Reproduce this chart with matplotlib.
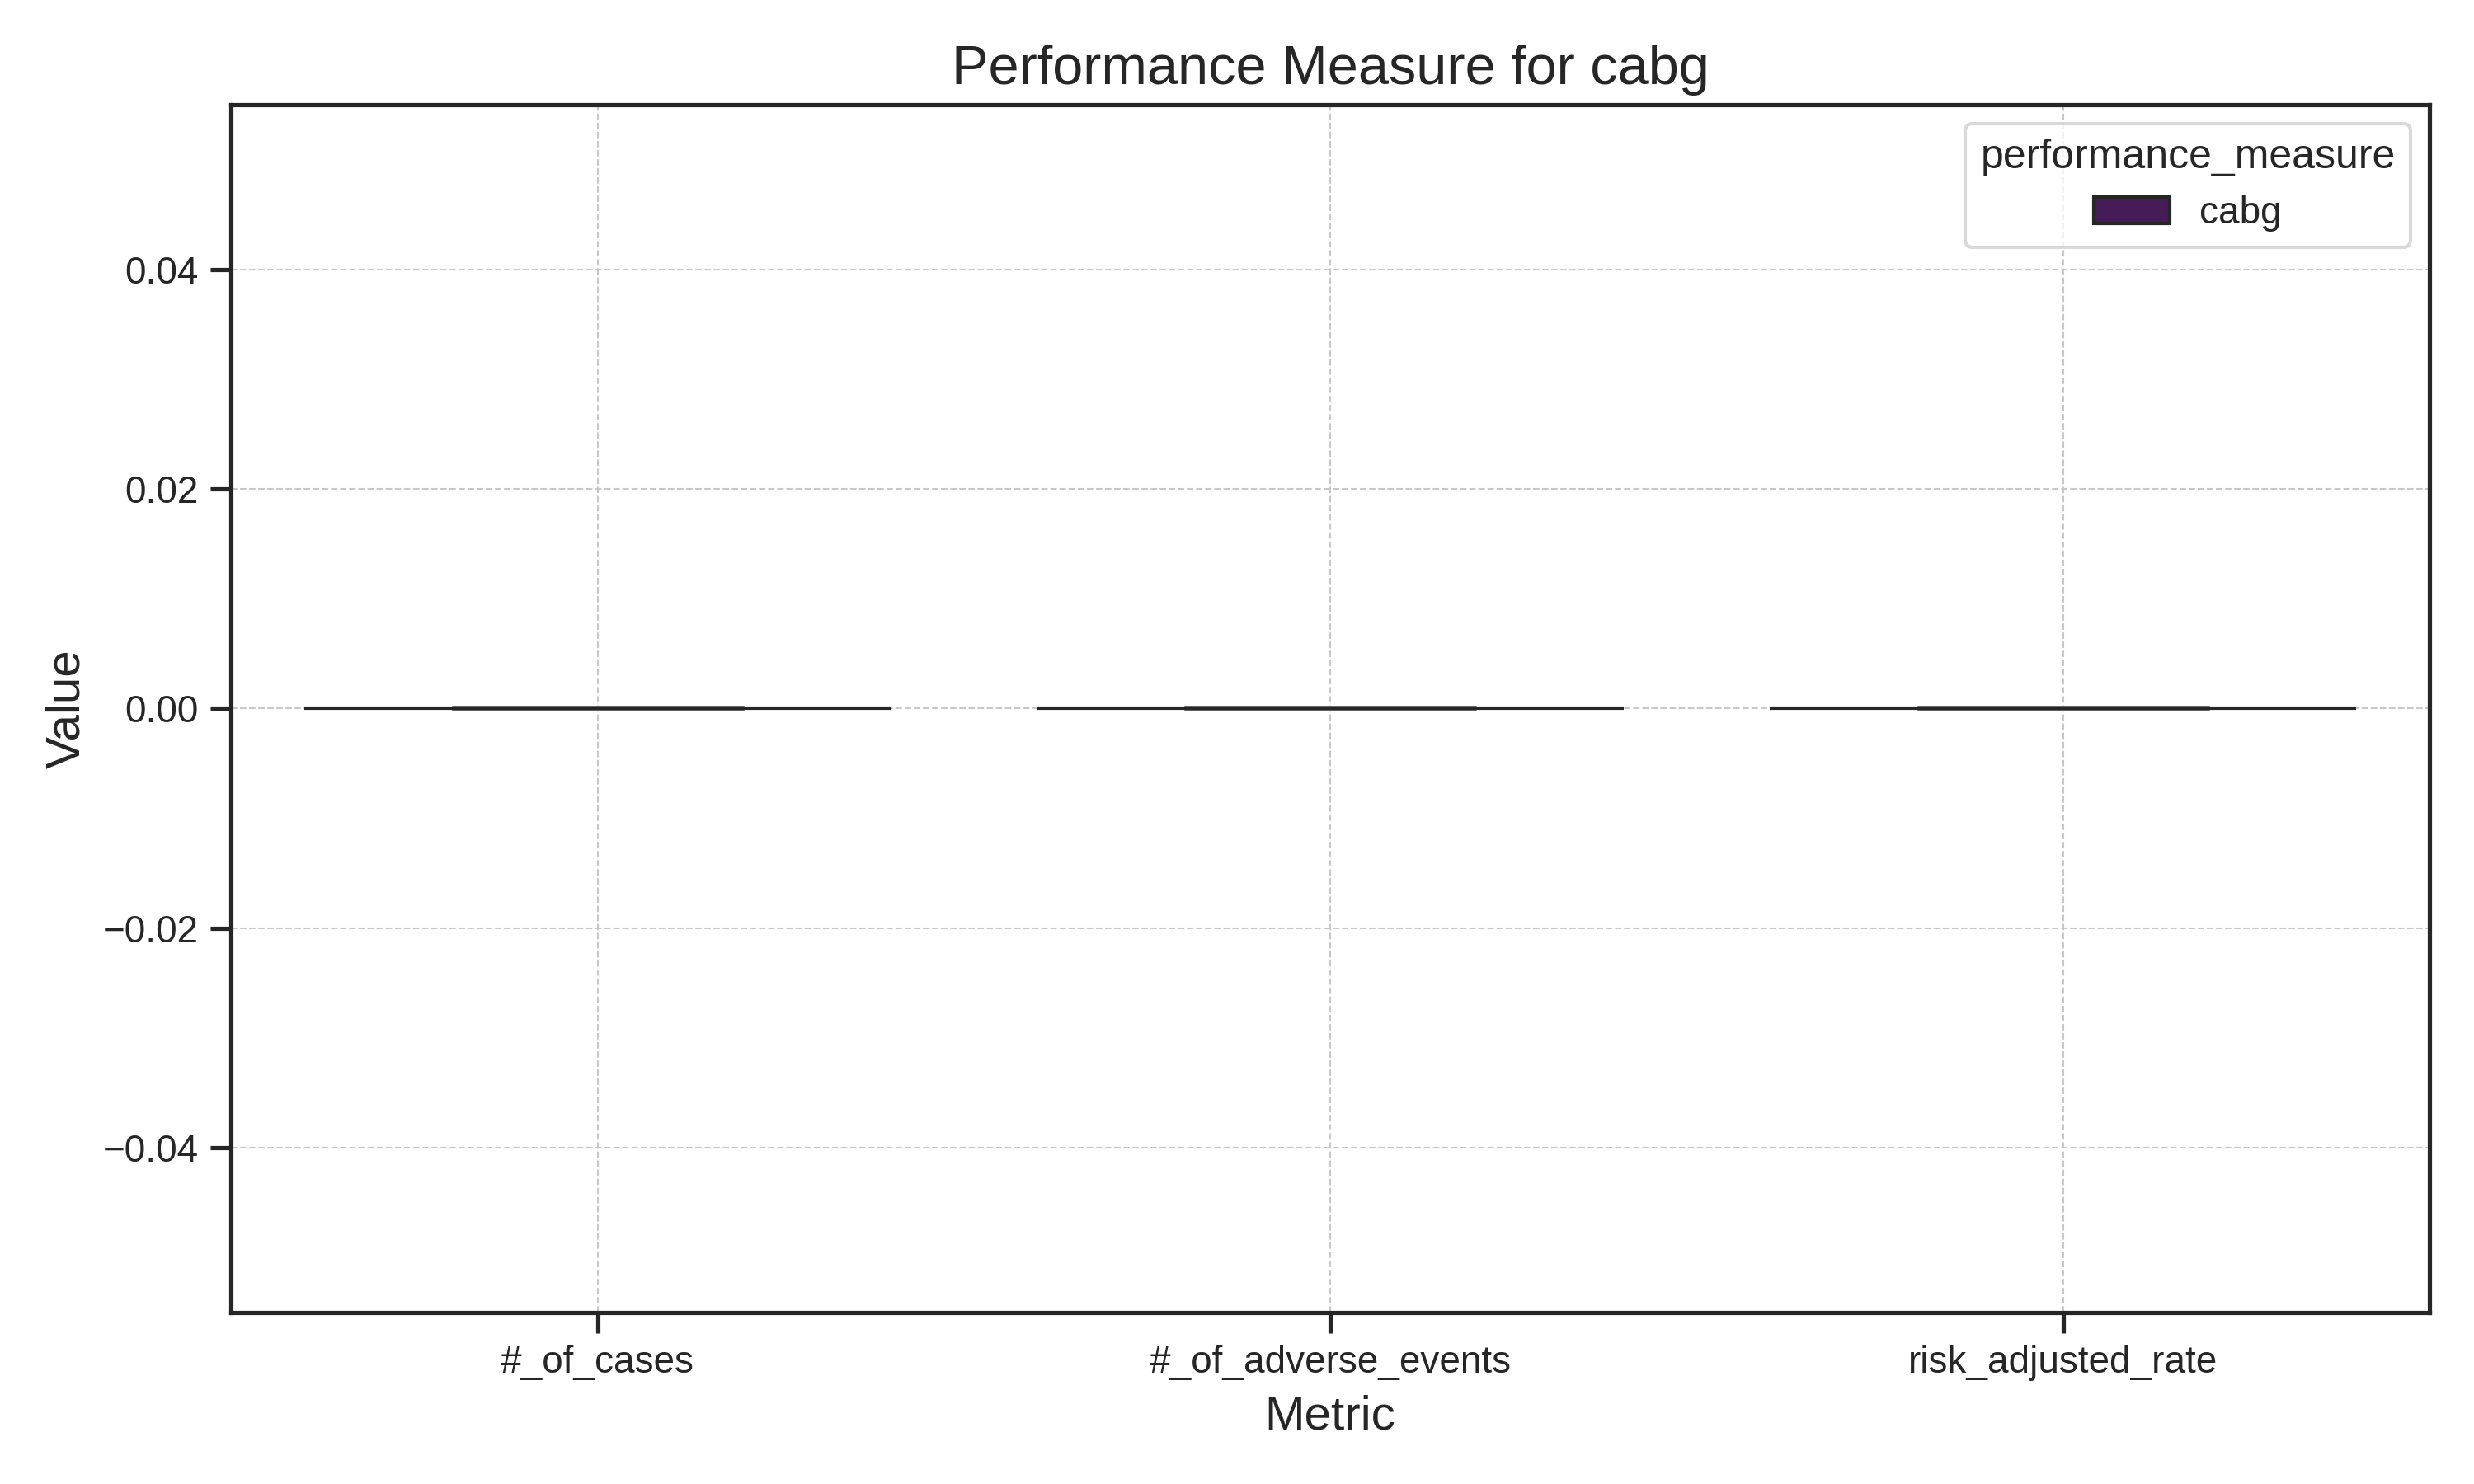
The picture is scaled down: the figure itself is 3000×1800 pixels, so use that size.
"""Bar chart of the cabg performance measure by metric."""

import matplotlib

matplotlib.use("Agg")

import matplotlib.pyplot as plt
import numpy as np
import seaborn as sns

metrics = ["#_of_cases", "#_of_adverse_events", "risk_adjusted_rate"]
cabg_values = [0.0, 0.0, 0.0]
cabg_errors = [0.0, 0.0, 0.0]
hue_label = "cabg"

sns.set_theme(style="ticks")
plt.rcParams["font.family"] = ["Liberation Sans", "DejaVu Sans"]

bar_color = "#451b58"
dark = "#262626"

fig, ax = plt.subplots(figsize=(10, 6), dpi=300)

x = np.arange(len(metrics))
ax.bar(
    x,
    cabg_values,
    width=0.8,
    color=bar_color,
    edgecolor=dark,
    linewidth=1.0,
    label=hue_label,
    zorder=3,
)
ax.errorbar(
    x,
    cabg_values,
    yerr=cabg_errors,
    fmt="none",
    ecolor="#6a6a6a",
    elinewidth=1.6,
    capsize=42.5,
    capthick=1.6,
    zorder=2,
)

ax.set_xlim(-0.5, len(metrics) - 0.5)
ax.set_xticks(x)
ax.set_xticklabels(metrics)
ax.tick_params(axis="both", labelsize=11, length=6, width=1.25, color=dark)

ax.set_title("Performance Measure for cabg", fontsize=16, color=dark)
ax.set_xlabel("Metric", fontsize=14, color=dark)
ax.set_ylabel("Value", fontsize=14, color=dark)

ax.grid(True, linestyle="--", linewidth=0.5, color="#c8c8c8", zorder=0)
ax.set_axisbelow(True)

for spine in ax.spines.values():
    spine.set_color(dark)
    spine.set_linewidth(1.25)

legend = ax.legend(
    title="performance_measure",
    loc="upper right",
    fontsize=11,
    title_fontsize=12,
    frameon=True,
)
legend.get_frame().set_edgecolor("#d0d0d0")

fig.tight_layout()
fig.savefig("out.png", dpi=300)
plt.close(fig)
